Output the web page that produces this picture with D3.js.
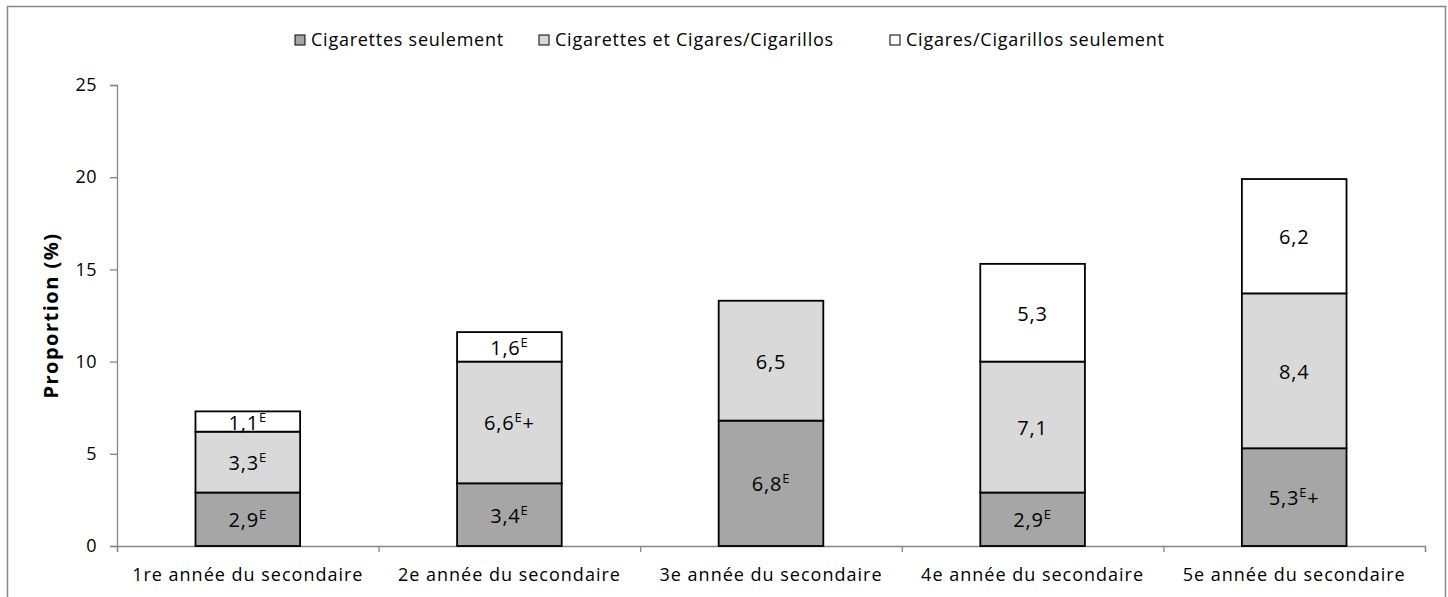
<!DOCTYPE html>
<html>
<head>
<meta charset="utf-8">
<script src="https://cdn.jsdelivr.net/npm/d3@7"></script>
<style>
  body { margin: 0; background: #fff; }
  text { font-family: "Open Sans", Lato, sans-serif; fill: #000; }
</style>
</head>
<body>
<div id="chart"></div>
<script>
// categories and series (values in %)
var grades = ["1re année du secondaire", "2e année du secondaire", "3e année du secondaire",
              "4e année du secondaire", "5e année du secondaire"];
var seriesNames = ["Cigarettes seulement", "Cigarettes et Cigares/Cigarillos", "Cigares/Cigarillos seulement"];
var cigOnly   = [2.9, 3.4, 6.8, 2.9, 5.3];
var both      = [3.3, 6.6, 6.5, 7.1, 8.4];
var cigarOnly = [1.1, 1.6, 0,   5.3, 6.2];
// superscript flags shown after each value ("" = none, null = no label)
var cigOnlyFlags   = ["E", "E", "E", "E", "E+"];
var bothFlags      = ["E", "E+", "", "", ""];
var cigarOnlyFlags = ["E", "E", null, "", ""];
var yTicks = [0, 5, 10, 15, 20, 25];

var colors = ["#a6a6a6", "#d9d9d9", "#ffffff"];
var fontFam = "'Open Sans', Lato, sans-serif";

var width = 1448, height = 597,
    margin = {left: 117, right: 23, top: 85, bottom: 51};

var svg = d3.select("#chart").append("svg")
    .attr("width", width)
    .attr("height", height);

// outer frame (bottom edge falls outside the picture)
svg.append("path")
    .attr("d", "M7.5," + height + "V6.5H1445.5V" + height)
    .attr("fill", "none")
    .attr("stroke", "#878787")
    .attr("stroke-width", 1.5);

var x = d3.scaleBand()
    .domain(grades)
    .range([margin.left, width - margin.right])
    .paddingInner(0.6)
    .paddingOuter(0.3);

var xEdge = d3.scaleLinear()
    .domain([0, grades.length])
    .range([margin.left, width - margin.right]);

var y = d3.scaleLinear()
    .domain([0, 25])
    .range([height - margin.bottom, margin.top]);

// build stacked table
var table = grades.map(function(g, i) {
    return {grade: g, s0: cigOnly[i], s1: both[i], s2: cigarOnly[i]};
});
var flags = [cigOnlyFlags, bothFlags, cigarOnlyFlags];
var stack = d3.stack().keys(["s0", "s1", "s2"])(table);

// y axis
var yAxis = svg.append("g")
    .attr("transform", "translate(" + margin.left + ",0)")
    .call(d3.axisLeft(y).tickValues(yTicks).tickSize(7).tickPadding(13));
yAxis.select(".domain").attr("stroke", "#868686").attr("stroke-width", 1.3);
yAxis.selectAll(".tick line").attr("stroke", "#868686").attr("stroke-width", 1.3);
yAxis.selectAll(".tick text").attr("font-size", 18).attr("fill", "#000")
    .attr("letter-spacing", 0.5)
    .style("font-family", fontFam);

// x axis: ticks on category edges, labels centered
var xTickAxis = svg.append("g")
    .attr("transform", "translate(0," + y(0) + ")")
    .call(d3.axisBottom(xEdge).tickValues(d3.range(grades.length + 1))
          .tickSize(6).tickFormat(""));
xTickAxis.select(".domain").attr("stroke", "#868686").attr("stroke-width", 1.3);
xTickAxis.selectAll(".tick line").attr("stroke", "#868686").attr("stroke-width", 1.3);

var xLabelAxis = svg.append("g")
    .attr("transform", "translate(0," + y(0) + ")")
    .call(d3.axisBottom(x).tickSize(0).tickPadding(22));
xLabelAxis.select(".domain").remove();
xLabelAxis.selectAll(".tick text").attr("font-size", 18).attr("fill", "#000")
    .attr("letter-spacing", 1)
    .style("font-family", fontFam);

// y axis title
svg.append("text")
    .attr("transform", "translate(58," + ((y(0) + y(25)) / 2) + ") rotate(-90)")
    .attr("text-anchor", "middle")
    .attr("font-size", 20)
    .attr("font-weight", "bold")
    .attr("letter-spacing", 1.5)
    .text("Proportion (%)");

// bars
var layers = svg.selectAll(".layer")
    .data(stack)
    .enter().append("g")
    .attr("class", "layer")
    .attr("fill", function(d, i) { return colors[i]; });

layers.selectAll("rect")
    .data(function(d) { return d.filter(function(p) { return p[1] - p[0] > 0; }); })
    .enter().append("rect")
    .attr("x", function(d) { return x(d.data.grade); })
    .attr("y", function(d) { return y(d[1]); })
    .attr("width", x.bandwidth())
    .attr("height", function(d) { return y(d[0]) - y(d[1]); })
    .attr("stroke", "#000")
    .attr("stroke-width", 1.8);

// value labels
stack.forEach(function(layer, k) {
    layer.forEach(function(p, i) {
        var f = flags[k][i];
        if (f === null) return;
        var val = p[1] - p[0];
        var t = svg.append("text")
            .attr("x", x(p.data.grade) + x.bandwidth() / 2)
            .attr("y", y((p[0] + p[1]) / 2) + 8)
            .attr("text-anchor", "middle")
            .attr("font-size", 20)
            .attr("letter-spacing", 0.8);
        t.append("tspan").text(d3.format(".1f")(val).replace(".", ","));
        if (f) {
            var sup = f.replace("+", "");
            t.append("tspan").attr("font-size", 13).attr("dy", -8).text(sup);
            if (f.indexOf("+") >= 0) {
                t.append("tspan").attr("dy", 8).text("+");
            }
        }
    });
});

// legend
var legendX = [295, 539, 890];
var legend = svg.selectAll(".legend")
    .data(seriesNames)
    .enter().append("g")
    .attr("class", "legend")
    .attr("transform", function(d, i) { return "translate(" + legendX[i] + ",35)"; });
legend.append("rect")
    .attr("width", 10).attr("height", 10)
    .attr("fill", function(d, i) { return colors[i]; })
    .attr("stroke", "#000").attr("stroke-width", 1);
legend.append("text")
    .attr("x", 16).attr("y", 11)
    .attr("font-size", 18)
    .attr("letter-spacing", 0.75)
    .text(function(d) { return d; });
</script>
</body>
</html>
